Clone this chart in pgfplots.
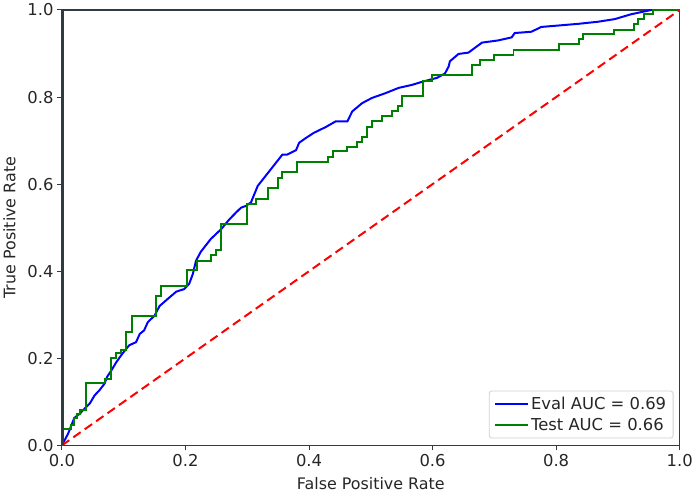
\documentclass[border=0pt]{standalone}
\usepackage{pgfplots}
\pgfplotsset{compat=1.18}
\usepackage{fontspec}
\setmainfont{DejaVu Sans}
\definecolor{spine}{RGB}{47,60,68}
\definecolor{mplgreen}{RGB}{0,128,0}
\begin{document}
\begin{tikzpicture}
\begin{axis}[
  name=ax,
  scale only axis,
  width=620bp, height=437bp,
  xmin=0, xmax=1, ymin=0, ymax=1,
  xtick={0,0.2,0.4,0.6,0.8,1}, ytick={0,0.2,0.4,0.6,0.8,1},
  /pgf/number format/assume math mode=true,
  /pgf/number format/fixed, /pgf/number format/fixed zerofill, /pgf/number format/precision=1,
  tick pos=left, tick align=outside,
  major tick length=5bp,
  every tick/.style={spine, line width=1bp},
  axis line style={spine, line width=1.6bp},
  ticklabel style={font=\fontsize{16.5}{19}\selectfont, text=black!85},
  xlabel={False Positive Rate}, ylabel={True Positive Rate},
  label style={font=\fontsize{16}{19}\selectfont, text=black!85},
  xlabel style={yshift=-4bp}, ylabel style={yshift=5bp},
  legend cell align=left,
  legend style={at={(rel axis cs:0.99,0.016)}, anchor=south east,
    draw=black!18, rounded corners=2.5pt, line width=0.8bp,
    font=\fontsize{16.5}{19}\selectfont, text=black!85,
    inner xsep=5bp, inner ysep=4.5bp, row sep=2.5bp},
  legend image code/.code={\draw[#1, line width=2bp] (0bp,0bp) -- (33bp,0bp);},
]
\addplot[blue, line width=2bp] coordinates {
(0,0)(0.010,0.027)(0.020,0.063)(0.029,0.073)(0.037,0.085)(0.045,0.096)(0.053,0.115)(0.061,0.127)(0.069,0.142)(0.073,0.157)(0.080,0.172)(0.088,0.191)(0.098,0.211)(0.109,0.230)(0.120,0.237)(0.126,0.256)(0.133,0.264)(0.139,0.283)(0.150,0.298)(0.158,0.320)(0.171,0.336)(0.185,0.353)(0.198,0.359)(0.206,0.371)(0.212,0.394)(0.217,0.424)(0.225,0.445)(0.241,0.474)(0.258,0.497)(0.271,0.519)(0.282,0.535)(0.290,0.546)(0.298,0.550)(0.306,0.558)(0.317,0.596)(0.357,0.668)(0.365,0.668)(0.379,0.678)(0.384,0.695)(0.395,0.706)(0.408,0.718)(0.427,0.731)(0.443,0.744)(0.462,0.744)(0.470,0.767)(0.486,0.786)(0.502,0.798)(0.524,0.809)(0.545,0.821)(0.567,0.828)(0.583,0.835)(0.607,0.844)(0.620,0.854)(0.626,0.870)(0.628,0.882)(0.642,0.899)(0.658,0.902)(0.680,0.925)(0.706,0.930)(0.728,0.937)(0.733,0.947)(0.760,0.950)(0.776,0.961)(0.835,0.968)(0.868,0.973)(0.895,0.979)(0.921,0.990)(0.954,1.0)(1,1)
};
\addlegendentry{Eval AUC = 0.69}
\addplot[mplgreen, line width=2bp] coordinates {
(0,0)(0,0.037)(0.014,0.037)(0.014,0.046)(0.019,0.046)(0.019,0.062)(0.025,0.062)(0.025,0.071)(0.030,0.071)(0.030,0.082)(0.039,0.082)(0.039,0.143)(0.069,0.143)(0.069,0.153)(0.079,0.153)(0.079,0.201)(0.088,0.201)(0.088,0.212)(0.096,0.212)(0.096,0.220)(0.104,0.220)(0.104,0.260)(0.113,0.260)(0.113,0.296)(0.153,0.296)(0.153,0.344)(0.161,0.344)(0.161,0.365)(0.202,0.365)(0.202,0.403)(0.218,0.403)(0.218,0.424)(0.242,0.424)(0.242,0.438)(0.250,0.438)(0.250,0.449)(0.258,0.449)(0.258,0.508)(0.300,0.508)(0.300,0.554)(0.314,0.554)(0.314,0.565)(0.333,0.565)(0.333,0.590)(0.349,0.590)(0.349,0.615)(0.357,0.615)(0.357,0.628)(0.381,0.628)(0.381,0.651)(0.430,0.651)(0.430,0.662)(0.438,0.662)(0.438,0.676)(0.462,0.676)(0.462,0.685)(0.478,0.685)(0.478,0.696)(0.486,0.696)(0.486,0.709)(0.494,0.709)(0.494,0.732)(0.502,0.732)(0.502,0.744)(0.518,0.744)(0.518,0.756)(0.534,0.756)(0.534,0.767)(0.544,0.767)(0.544,0.780)(0.551,0.780)(0.551,0.803)(0.584,0.803)(0.584,0.837)(0.599,0.837)(0.599,0.851)(0.664,0.851)(0.664,0.874)(0.676,0.874)(0.676,0.886)(0.699,0.886)(0.699,0.897)(0.731,0.897)(0.731,0.908)(0.804,0.908)(0.804,0.921)(0.837,0.921)(0.837,0.933)(0.844,0.933)(0.844,0.944)(0.894,0.944)(0.894,0.955)(0.926,0.955)(0.926,0.968)(0.932,0.968)(0.932,0.979)(0.943,0.979)(0.943,0.991)(0.957,0.991)(0.957,1.0)(1.0,1.0)
};
\addlegendentry{Test AUC = 0.66}
\addplot[red, line width=2bp, dash pattern=on 9bp off 5bp, forget plot] coordinates {(0,0)(1,1)};
\addplot[spine, line width=3.5bp, forget plot] coordinates {(0,0)(0,1)};
\end{axis}
\path ([xshift=-62bp,yshift=-50bp]ax.south west) rectangle ([xshift=14bp,yshift=10bp]ax.north east);
\end{tikzpicture}
\end{document}
